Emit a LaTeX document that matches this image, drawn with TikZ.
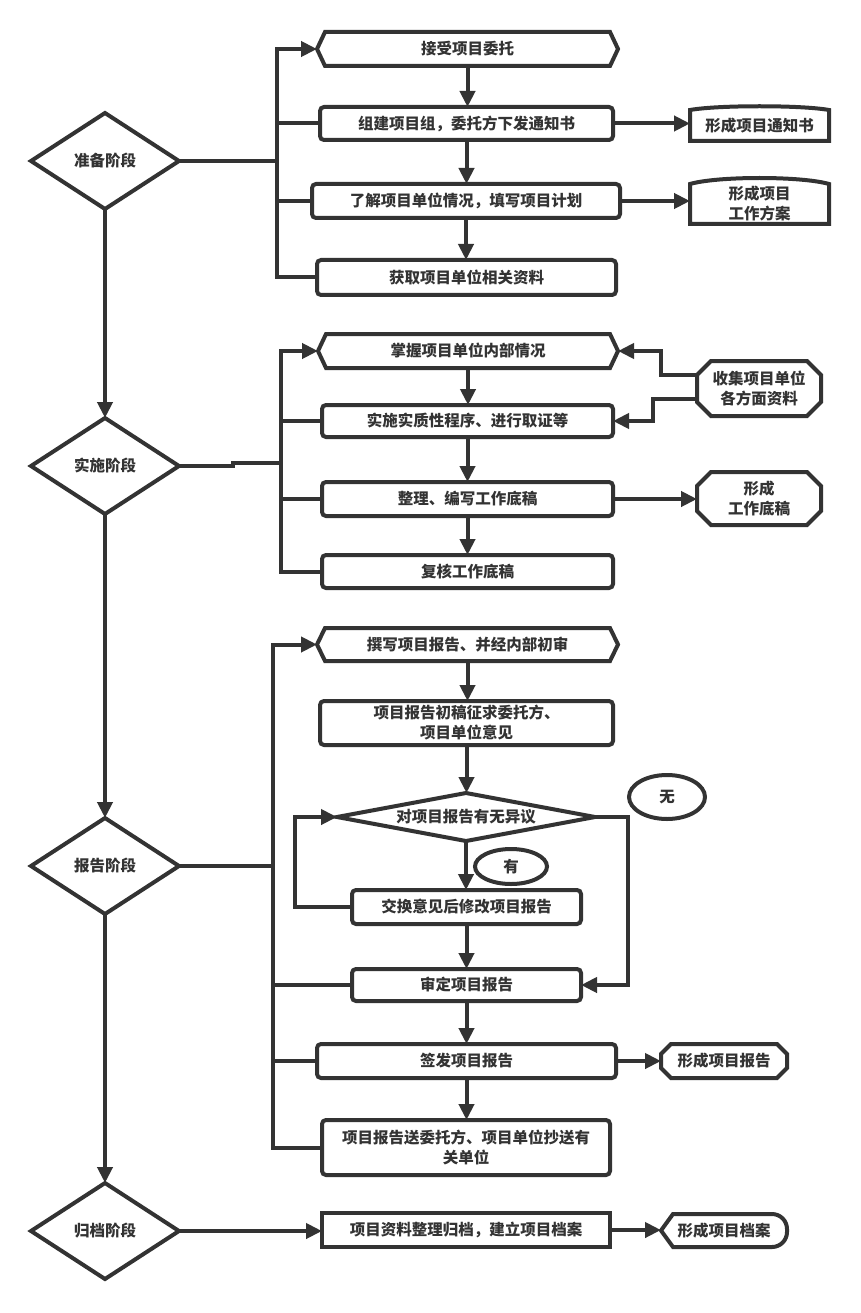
\documentclass[tikz,border=0pt]{standalone}
\usepackage{fontspec}
\setmainfont{Noto Sans CJK SC}
\usetikzlibrary{arrows.meta,calc,shapes.geometric}
\definecolor{ink}{HTML}{333333}
\newcommand\hexpath[2]{\draw[shp] (#1.west) -- ([xshift=#2]#1.north west) -- ([xshift=-#2]#1.north east) -- (#1.east) -- ([xshift=-#2]#1.south east) -- ([xshift=#2]#1.south west) -- cycle;}
\newcommand\octpath[2]{\draw[shp] ([yshift=-#2]#1.north west) -- ([xshift=#2]#1.north west) -- ([xshift=-#2]#1.north east) -- ([yshift=-#2]#1.north east) -- ([yshift=#2]#1.south east) -- ([xshift=-#2]#1.south east) -- ([xshift=#2]#1.south west) -- ([yshift=#2]#1.south west) -- cycle;}
\newcommand\diapath[1]{\draw[shp] (#1.west) -- (#1.north) -- (#1.east) -- (#1.south) -- cycle;}
\newcommand\archpath[2]{\draw[shp] (#1.south west) -- (#1.north west) .. controls ($(#1.north west)!0.2!(#1.north east)+(0,-#2)$) and ($(#1.north west)!0.8!(#1.north east)+(0,-#2)$) .. (#1.north east) -- (#1.south east) -- cycle;}
\begin{document}
\begin{tikzpicture}[x=1pt,y=-1pt,
  shp/.style={draw=ink,line width=4pt},
  conn/.style={draw=ink,line width=4pt},
  arr/.style={conn,-{Triangle[length=16pt,width=15pt]}},
  txt/.style={text=ink,font=\bfseries\fontsize{15.5pt}{20pt}\selectfont,align=center,inner sep=0pt,outer sep=0pt},
  box/.style={txt,rectangle,draw=ink,line width=4pt,rounded corners=4pt},
  sqbox/.style={txt,rectangle,draw=ink,line width=4pt},
  blank/.style={txt,rectangle,draw=none},
  oval/.style={txt,ellipse,draw=ink,line width=4pt}]
\useasboundingbox (0,0) rectangle (860,1313);

% ---------- phase diamonds ----------
\node[blank,minimum width=148pt,minimum height=96pt] (d1) at (105,161) {准备阶段};
\node[blank,minimum width=148pt,minimum height=96pt] (d2) at (105,466) {实施阶段};
\node[blank,minimum width=148pt,minimum height=96pt] (d3) at (105,866) {报告阶段};
\node[blank,minimum width=148pt,minimum height=96pt] (d4) at (105,1231) {归档阶段};
\diapath{d1}\diapath{d2}\diapath{d3}\diapath{d4}

% ---------- 准备 ----------
\node[blank,minimum width=301pt,minimum height=34pt] (p1) at (467.5,49) {接受项目委托};
\hexpath{p1}{8pt}
\node[box,minimum width=293pt,minimum height=33pt] (p2) at (466.5,123.5) {组建项目组，委托方下发通知书};
\node[box,minimum width=308pt,minimum height=34pt] (p3) at (466,201) {了解项目单位情况，填写项目计划};
\node[box,minimum width=299pt,minimum height=35pt] (p4) at (466.5,277.5) {获取项目单位相关资料};
\node[blank,minimum width=139pt,minimum height=31pt] (n1) at (759.5,125.5) {形成项目通知书};
\archpath{n1}{5}
\node[blank,minimum width=139pt,minimum height=40pt] (n2) at (759.5,204) {形成项目\\工作方案};
\archpath{n2}{8}

% ---------- 实施 ----------
\node[blank,minimum width=300pt,minimum height=34pt] (s1) at (468,351) {掌握项目单位内部情况};
\hexpath{s1}{8pt}
\node[box,minimum width=291pt,minimum height=32pt] (s2) at (467.5,421) {实施实质性程序、进行取证等};
\node[box,minimum width=291pt,minimum height=34pt] (s3) at (467.5,499) {整理、编写工作底稿};
\node[box,minimum width=291pt,minimum height=33pt] (s4) at (467.5,571.5) {复核工作底稿};
\node[blank,minimum width=124pt,minimum height=55pt] (c1) at (759,388.5) {收集项目单位\\各方面资料};
\octpath{c1}{14pt}
\node[blank,minimum width=124pt,minimum height=53pt] (c2) at (759,498.5) {形成\\工作底稿};
\octpath{c2}{14pt}

% ---------- 报告 ----------
\node[blank,minimum width=301pt,minimum height=33pt] (r1) at (467.5,644.5) {撰写项目报告、并经内部初审};
\hexpath{r1}{8pt}
\node[box,minimum width=293pt,minimum height=44pt] (r2) at (466.5,723) {项目报告初稿征求委托方、\\项目单位意见};
\node[blank,minimum width=258pt,minimum height=48pt] (r3) at (466,817) {对项目报告有无异议};
\diapath{r3}
\node[box,minimum width=229pt,minimum height=34pt] (r4) at (466.5,907) {交换意见后修改项目报告};
\node[box,minimum width=229pt,minimum height=32pt] (r5) at (466.5,985) {审定项目报告};
\node[box,minimum width=299pt,minimum height=34pt] (r6) at (466.5,1061) {签发项目报告};
\node[box,minimum width=288pt,minimum height=55pt] (r7) at (466,1147.5) {项目报告送委托方、项目单位抄送有\\关单位};
\node[blank,minimum width=126pt,minimum height=34pt] (f1) at (724,1061) {形成项目报告};
\octpath{f1}{10pt}
\node[oval,minimum width=76pt,minimum height=44pt] (e1) at (667,797) {无};
\node[oval,minimum width=72pt,minimum height=35pt] (e2) at (511,866.5) {有};

% ---------- 归档 ----------
\node[sqbox,minimum width=288pt,minimum height=34pt] (g1) at (466,1230) {项目资料整理归档，建立项目档案};
\node[blank,minimum width=126pt,minimum height=33pt] (f2) at (724,1230.5) {形成项目档案};
\draw[shp] (f2.west) -- ([xshift=12pt]f2.north west) {[rounded corners=15pt] -- (f2.north east) -- (f2.south east)} -- ([xshift=12pt]f2.south west) -- cycle;

% ---------- connectors ----------
\coordinate (b1) at (277,161);
\coordinate (b2a) at (233,466);
\coordinate (b2) at (281,463);
\coordinate (b3) at (273,866);
\coordinate (k1) at (661,351);
\coordinate (k2) at (653,421);
\coordinate (k3) at (295,907);
\coordinate (k4) at (628,817);

% phase chain
\draw[arr] (d1.south) -- (d2.north);
\draw[arr] (d2.south) -- (d3.north);
\draw[arr] (d3.south) -- (d4.north);

% 准备 bus
\draw[conn] (d1.east) -- (b1);
\draw[arr] (b1) |- (p1.west);
\draw[conn] (b1) |- (p2.west);
\draw[conn] (b1) |- (p3.west);
\draw[conn] (b1) |- (p4.west);
\draw[arr] (p1.south) -- (p1.south |- p2.north);
\draw[arr] (p2.south) -- (p2.south |- p3.north);
\draw[arr] (p3.south) -- (p3.south |- p4.north);
\draw[arr] (p2.east) -- (p2.east -| n1.west);
\draw[arr] (p3.east) -- (p3.east -| n2.west);

% 实施 bus
\draw[conn] (d2.east) -- (b2a) |- (b2);
\draw[arr] (b2) |- (s1.west);
\draw[conn] (b2) |- (s2.west);
\draw[conn] (b2) |- (s3.west);
\draw[conn] (b2) |- (s4.west);
\draw[arr] (s1.south) -- (s1.south |- s2.north);
\draw[arr] (s2.south) -- (s2.south |- s3.north);
\draw[arr] (s3.south) -- (s3.south |- s4.north);
\draw[arr] ([yshift=14pt]c1.west) -| (k1) -- (s1.east);
\draw[arr] ([yshift=-10pt]c1.west) -| (k2) -- (s2.east);
\draw[arr] (s3.east) -- (s3.east -| c2.west);

% 报告 bus
\draw[conn] (d3.east) -- (b3);
\draw[arr] (b3) |- (r1.west);
\draw[conn] (b3) |- (r5.west);
\draw[conn] (b3) |- (r6.west);
\draw[conn] (b3) |- (r7.west);
\draw[arr] (r1.south) -- (r1.south |- r2.north);
\draw[arr] (r2.south) -- (r2.south |- r3.north);
\draw[arr] (r3.south) -- (r3.south |- r4.north);
\draw[arr] (r4.south) -- (r4.south |- r5.north);
\draw[arr] (r5.south) -- (r5.south |- r6.north);
\draw[arr] (r6.south) -- (r6.south |- r7.north);
\draw[arr] (r4.west) -- (k3) |- (r3.west);
\draw[arr] (r3.east) -- (k4) |- (r5.east);
\draw[arr] (r6.east) -- (r6.east -| f1.west);

% 归档
\draw[arr] (d4.east) -- (d4.east -| g1.west);
\draw[arr] (g1.east) -- (g1.east -| f2.west);
\end{tikzpicture}
\end{document}
